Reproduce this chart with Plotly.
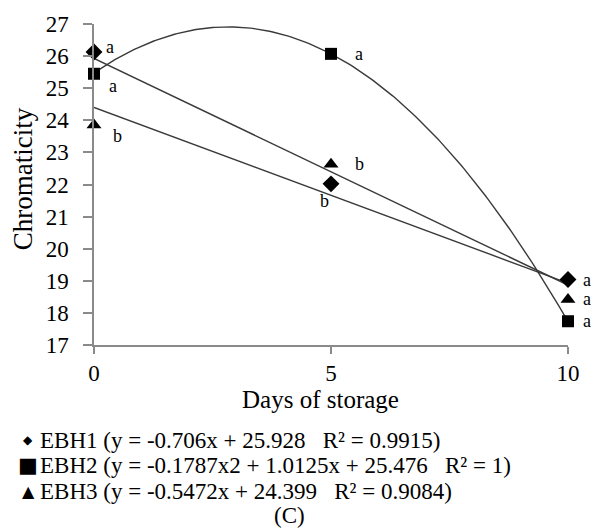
import numpy as np
import plotly.graph_objects as go

days = [0, 5, 10]
ebh1 = [26.13, 22.02, 19.04]
ebh2 = [25.45, 26.07, 17.74]
ebh3 = [23.85, 22.63, 18.42]

letters1 = ["a", "b", "a"]
letters2 = ["a", "a", "a"]
letters3 = ["b", "b", "a"]

# trendline coefficients (highest power first), as printed in the legend
coef1 = [-0.706, 25.928]
coef2 = [-0.1787, 1.0125, 25.476]
coef3 = [-0.5472, 24.399]

legend_symbols = ["◆", "■", "▲"]
legend_texts = [
    "EBH1 (y = -0.706x + 25.928   R² = 0.9915)",
    "EBH2 (y = -0.1787x2 + 1.0125x + 25.476   R² = 1)",
    "EBH3 (y = -0.5472x + 24.399   R² = 0.9084)",
]
caption = "(C)"
x_title = "Days of storage"
y_title = "Chromaticity"

FONT = "'Liberation Serif', 'Times New Roman', serif"
LINE = "#3a3a3a"
AX = "#8a8a8a"

fig = go.Figure()
xs = np.linspace(0, 10, 201)
for coef in (coef1, coef2, coef3):
    fig.add_trace(go.Scatter(x=xs, y=np.polyval(coef, xs), mode="lines",
                             line=dict(color=LINE, width=1.4),
                             hoverinfo="skip", showlegend=False))

fig.add_trace(go.Scatter(x=days, y=ebh1, mode="markers", cliponaxis=False,
                         marker=dict(symbol="diamond", size=13, color="black"), showlegend=False))
fig.add_trace(go.Scatter(x=days, y=ebh2, mode="markers", cliponaxis=False,
                         marker=dict(symbol="square", size=12, color="black"), showlegend=False))
fig.add_trace(go.Scatter(x=days, y=ebh3, mode="markers", cliponaxis=False,
                         marker=dict(symbol="triangle-up", size=13, color="black"), showlegend=False))

# significance letters: offsets in pixels per point
offs1 = [(16, 5), (-7, -17), (19, 0)]
offs2 = [(19, -12), (28, 0), (19, 0)]
offs3 = [(23, -11), (28, 0), (19, 0)]
for ys, lets, offs in ((ebh1, letters1, offs1), (ebh2, letters2, offs2), (ebh3, letters3, offs3)):
    for x, y, t, (dx, dy) in zip(days, ys, lets, offs):
        fig.add_annotation(x=x, y=y, text=t, showarrow=False, xshift=dx, yshift=dy,
                           font=dict(family=FONT, size=18, color="black"))

# geometry helpers (plot area: x 94..570 px, y 22..345 px)
PL, PW, PB, PH = 94, 476, 345, 323
def px(xp):
    return (xp - PL) / PW
def py(yp):
    return (PB - yp) / PH

# axis titles
fig.add_annotation(xref="paper", yref="paper", x=px(23), y=py(178), text=y_title,
                   textangle=-90, showarrow=False, xanchor="center", yanchor="middle",
                   font=dict(family=FONT, size=27, color="black"))
fig.add_annotation(xref="paper", yref="paper", x=px(321), y=py(400), text=x_title,
                   showarrow=False, xanchor="center", yanchor="middle",
                   font=dict(family=FONT, size=25, color="black"))

sym_sizes = [12, 21, 16]
line_y = [441, 466, 492]
for sym, ss, t, ly in zip(legend_symbols, sym_sizes, legend_texts, line_y):
    fig.add_annotation(xref="paper", yref="paper", x=px(28), y=py(ly), text=sym,
                       xanchor="center", yanchor="middle", showarrow=False,
                       font=dict(family="DejaVu Sans", size=ss, color="black"))
    fig.add_annotation(xref="paper", yref="paper", x=px(38), y=py(ly), text=t,
                       xanchor="left", yanchor="middle", showarrow=False,
                       font=dict(family=FONT, size=23, color="black"))
fig.add_annotation(xref="paper", yref="paper", x=px(290), y=py(517), xanchor="center",
                   yanchor="middle", text=caption, showarrow=False,
                   font=dict(family=FONT, size=23, color="black"))

fig.update_layout(
    width=592, height=531,
    margin=dict(l=PL, r=592 - PL - PW, t=PB - PH, b=531 - PB),
    paper_bgcolor="white", plot_bgcolor="white",
    font=dict(family=FONT, size=23, color="black"),
    xaxis=dict(range=[0, 10], tickvals=[0, 5, 10], showgrid=False, zeroline=False,
               showline=True, linecolor=AX, linewidth=1.5, ticks="outside",
               tickcolor=AX, ticklen=7, tickwidth=1.5, ticklabelstandoff=0,
               tickfont=dict(size=23)),
    yaxis=dict(range=[17, 27], dtick=1, showgrid=False, zeroline=False,
               showline=True, linecolor=AX, linewidth=1.5, ticks="outside",
               tickcolor=AX, ticklen=9, tickwidth=1.5, ticklabelstandoff=10,
               tickfont=dict(size=23)),
)

fig.write_html("out.html")
